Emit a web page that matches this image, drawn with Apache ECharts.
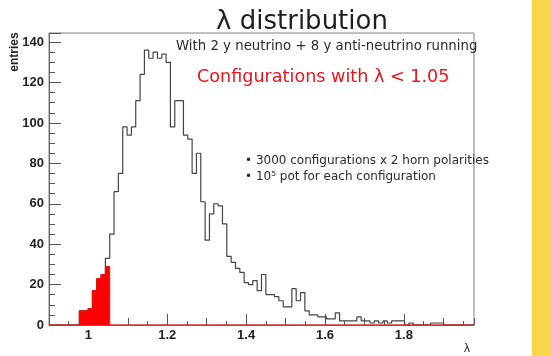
<!DOCTYPE html>
<html>
<head>
<meta charset="utf-8">
<script src="https://cdn.jsdelivr.net/npm/echarts@6/dist/echarts.min.js"></script>
<style>
html,body{margin:0;padding:0;background:#fff;}
#chart{width:551px;height:356px;}
</style>
</head>
<body>
<div id="chart"></div>
<script>
// ---- data ----
const lambdaMin = 0.9;
const binWidth = 0.011;
// entries per bin (black outline), bins start at lambdaMin
const entries = [
  0,0,0,0,0,0,0,
  7,7,8,17,23,25,33,
  45,66,75,98,94,98,111,124,
  136,132,135,132,134,130,
  98,111,111,94,92,75,85,61,
  42,55,60,59,50,34,31,28,26,21,
  20,22,17,25,15,15,14,12,9,9,
  18,12,16,7,5,5,4,4,3,3,6,
  2,2,2,2,4,2,2,1,2,1,2,1,2,2,2,
  0,1,0,0,0,0,1,1,1,
  0,0,0,0,0,0,0
];
// red-filled entries (configurations with lambda < 1.05)
const redEntries = [
  0,0,0,0,0,0,0,
  7,7,8,17,23,25,29
];
const xLabelValues = [1, 1.2, 1.4, 1.6, 1.8];
const yMax = 144.5;

// ---- build ----
const nBins = entries.length;
const lambdaMax = lambdaMin + nBins * binWidth;
function stepPoints(vals) {
  const pts = [];
  for (let k = 0; k < nBins; k++) {
    pts.push([lambdaMin + k * binWidth, vals[k] || 0]);
  }
  pts.push([lambdaMax, vals[nBins - 1] || 0]);
  pts.push([lambdaMax, 0]);
  return pts;
}

const gridLeft = 49, gridRight = 77, gridTop = 33, gridBottom = 31;
const plotW = 551 - gridLeft - gridRight;
const labelGridLeft = gridLeft + (xLabelValues[0] - lambdaMin) / (lambdaMax - lambdaMin) * plotW;

const axisFont = {fontFamily: 'Liberation Sans', fontWeight: 'bold', fontSize: 13, color: '#222'};

const chart = echarts.init(document.getElementById('chart'), null, {renderer: 'canvas'});
chart.setOption({
  animation: false,
  backgroundColor: '#ffffff',
  grid: [
    {left: gridLeft, right: gridRight, top: gridTop, bottom: gridBottom, show: true,
     borderColor: '#808080', borderWidth: 1, backgroundColor: 'transparent'},
    {left: labelGridLeft, right: gridRight, top: gridTop, bottom: gridBottom, show: false}
  ],
  xAxis: [
    {gridIndex: 0, type: 'value', min: lambdaMin, max: lambdaMax, interval: 0.1,
     axisLine: {show: true, onZero: false, lineStyle: {color: '#e23a3a', width: 1}},
     axisTick: {show: true, inside: true, length: 7, lineStyle: {color: '#555'}},
     minorTick: {show: true, splitNumber: 2, length: 4, lineStyle: {color: '#555'}},
     axisLabel: {show: false}, splitLine: {show: false}},
    {gridIndex: 1, type: 'value', min: xLabelValues[0], max: lambdaMax, interval: 0.2,
     axisLine: {show: false},
     axisTick: {show: true, inside: true, length: 11, lineStyle: {color: '#555'}},
     axisLabel: Object.assign({show: true, margin: 4, showMaxLabel: false,
       formatter: v => String(+(+v).toFixed(1))}, axisFont),
     splitLine: {show: false}}
  ],
  yAxis: [
    {gridIndex: 0, type: 'value', min: 0, max: yMax, interval: 20,
     axisLine: {show: true, lineStyle: {color: '#666'}},
     axisTick: {show: true, inside: true, length: 12, lineStyle: {color: '#555'}},
     minorTick: {show: true, splitNumber: 4, length: 6, lineStyle: {color: '#555'}},
     axisLabel: Object.assign({margin: 5, showMaxLabel: false}, axisFont),
     splitLine: {show: false}},
    {gridIndex: 1, type: 'value', min: 0, max: 1, show: false}
  ],
  series: [
    {type: 'line', xAxisIndex: 0, yAxisIndex: 0, step: 'end', data: stepPoints(entries),
     showSymbol: false, symbol: 'none', lineStyle: {color: '#444', width: 1.2}, z: 2},
    {type: 'line', xAxisIndex: 0, yAxisIndex: 0, step: 'end', data: stepPoints(redEntries),
     showSymbol: false, symbol: 'none', lineStyle: {color: '#f01010', width: 1},
     areaStyle: {color: '#ff0000', opacity: 1}, z: 3}
  ],
  graphic: [
    {type: 'rect', left: 532, top: 0, shape: {width: 19, height: 356}, style: {fill: '#f8d64a'}, silent: true},
    {type: 'text', x: 302, y: 22, style: {text: 'λ distribution', font: '26px "DejaVu Sans"', fill: '#1e1e1e', align: 'center', verticalAlign: 'middle'}},
    {type: 'text', x: 15, y: 52, rotation: Math.PI / 2, style: {text: 'entries', font: 'bold 12px "Liberation Sans"', fill: '#222', align: 'center', verticalAlign: 'middle'}},
    {type: 'text', x: 467, y: 349, style: {text: 'λ', font: '12px "Liberation Sans"', fill: '#222', align: 'center', verticalAlign: 'middle'}},
    {type: 'text', x: 176, y: 47, style: {text: 'With 2 y neutrino + 8 y anti-neutrino running', font: '13.3px "DejaVu Sans"', fill: '#2a2a2a', align: 'left', verticalAlign: 'middle'}},
    {type: 'text', x: 197, y: 77, style: {text: 'Configurations with λ < 1.05', font: '17.6px "DejaVu Sans"', fill: '#e8141c', align: 'left', verticalAlign: 'middle'}},
    {type: 'text', x: 245, y: 161, style: {text: '• 3000 configurations x 2 horn polarities', font: '12px "DejaVu Sans"', fill: '#2a2a2a', align: 'left', verticalAlign: 'middle'}},
    {type: 'text', x: 245, y: 177, style: {text: '• 10⁵ pot for each configuration', font: '12px "DejaVu Sans"', fill: '#2a2a2a', align: 'left', verticalAlign: 'middle'}}
  ]
});
</script>
</body>
</html>
